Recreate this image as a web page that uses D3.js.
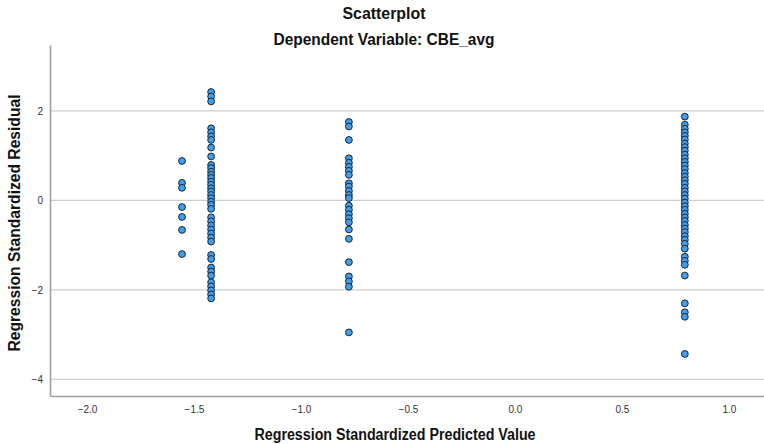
<!DOCTYPE html>
<html>
<head>
<meta charset="utf-8">
<script src="https://cdn.jsdelivr.net/npm/d3@7"></script>
<style>
  html, body { margin: 0; padding: 0; background: #fff; }
  svg { display: block; }
  text { font-family: "Liberation Sans", Arial, sans-serif; }
  .heading { font-weight: bold; fill: #111; }
</style>
</head>
<body>
<svg id="chart" width="764" height="444"></svg>
<script>
// Predicted value of each group (x) and the residuals in that group (y)
const groupPredicted = [-1.556, -1.42, -0.776, 0.794];

const residualsGroup1 = [0.88, 0.39, 0.28, -0.15, -0.37, -0.66, -1.20];

const residualsGroup2 = [
  2.42, 2.32, 2.21,
  1.61, 1.52, 1.43, 1.35, 1.18, 0.98,
  0.79, 0.72, 0.64, 0.57, 0.50, 0.42, 0.35, 0.27, 0.20, 0.12, 0.05,
  -0.03, -0.10, -0.19, -0.38, -0.47, -0.56, -0.65, -0.74, -0.83, -0.92,
  -1.22, -1.31, -1.50, -1.59, -1.68,
  -1.83, -1.92, -2.01, -2.10, -2.19
];

const residualsGroup3 = [
  1.75, 1.65, 1.35,
  0.94, 0.84, 0.75, 0.66, 0.57, 0.38, 0.31, 0.21, 0.12, 0.05,
  -0.12, -0.21, -0.31, -0.40, -0.49, -0.65, -0.86,
  -1.38, -1.70, -1.81, -1.93, -2.95
];

const residualsGroup4 = [
  1.87, 1.69, 1.60, 1.52, 1.44, 1.36, 1.27, 1.19, 1.11, 1.02, 0.94,
  0.86, 0.78, 0.70, 0.61, 0.53, 0.45, 0.37, 0.28, 0.20, 0.12, 0.04,
  -0.05, -0.13, -0.21, -0.30, -0.38, -0.46, -0.55, -0.63, -0.71, -0.80,
  -0.88, -0.97, -1.08, -1.26, -1.35, -1.44, -1.68, -2.30, -2.50, -2.60,
  -3.43
];

const xTicks = [-2.0, -1.5, -1.0, -0.5, 0.0, 0.5, 1.0];
const yTicks = [2, 0, -2, -4];

const titleText = "Scatterplot";
const subtitleText = "Dependent Variable: CBE_avg";
const xLabel = "Regression Standardized Predicted Value";
const yLabel = "Regression Standardized Residual";

const residualGroups = [residualsGroup1, residualsGroup2, residualsGroup3, residualsGroup4];
const points = residualGroups.flatMap((g, i) => g.map(r => ({ x: groupPredicted[i], y: r })));

const svg = d3.select("#chart");

const plotLeft = 50, plotRight = 764, plotTop = 45, plotBottom = 396;

const x = d3.scaleLinear().domain([-2.173, 1.164]).range([plotLeft, plotRight]);
const y = d3.scaleLinear().domain([-4.37, 3.47]).range([plotBottom, plotTop]);

// Horizontal gridlines at the y ticks
svg.append("g")
  .selectAll("line")
  .data(yTicks)
  .join("line")
  .attr("x1", plotLeft).attr("x2", plotRight)
  .attr("y1", d => y(d)).attr("y2", d => y(d))
  .attr("stroke", "#cfcfcf")
  .attr("stroke-width", 1.2);

// Y axis
const yAxis = svg.append("g")
  .attr("transform", `translate(${plotLeft},0)`)
  .call(d3.axisLeft(y).tickValues(yTicks).tickSize(0).tickPadding(7).tickFormat(d3.format("d")));
yAxis.select(".domain").attr("stroke", "#a0a0a0").attr("stroke-width", 1.6);
yAxis.selectAll("text").attr("font-size", 10).attr("fill", "#333");

// X axis
const xAxis = svg.append("g")
  .attr("transform", `translate(0,${plotBottom})`)
  .call(d3.axisBottom(x).tickValues(xTicks).tickSize(0).tickPadding(10).tickFormat(d3.format(".1f")));
xAxis.select(".domain").attr("stroke", "#a0a0a0").attr("stroke-width", 1.6);
xAxis.selectAll("text").attr("font-size", 10).attr("fill", "#333");

// Points
svg.append("g")
  .selectAll("circle")
  .data(points)
  .join("circle")
  .attr("cx", d => x(d.x))
  .attr("cy", d => y(d.y))
  .attr("r", 3.4)
  .attr("fill", "#3e9ff0")
  .attr("stroke", "#1a2530")
  .attr("stroke-width", 1);

// Headings use a condensed set width
function heading(text, size, width) {
  return svg.append("text").attr("class", "heading")
    .attr("text-anchor", "middle")
    .attr("font-size", size)
    .attr("textLength", width)
    .attr("lengthAdjust", "spacingAndGlyphs")
    .text(text);
}

heading(titleText, 16, 83).attr("x", 384).attr("y", 19);
heading(subtitleText, 16, 221).attr("x", 384).attr("y", 45);
heading(xLabel, 16, 281).attr("x", 395).attr("y", 440);
heading(yLabel, 16, 257).attr("transform", "translate(20,223) rotate(-90)");
</script>
</body>
</html>
